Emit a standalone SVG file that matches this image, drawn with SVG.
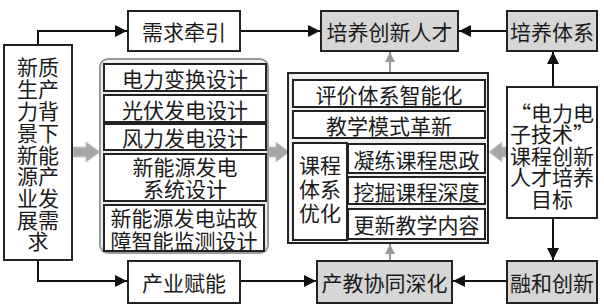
<svg xmlns="http://www.w3.org/2000/svg" width="604" height="306" viewBox="0 0 604 306">
<defs>
<style>
.t{font-family:"Noto Sans CJK SC","Noto Sans CJK JP",sans-serif;font-size:21px;fill:#1a1a1a;text-anchor:middle;dominant-baseline:central}
.b{fill:#fff;stroke:#222;stroke-width:2}
.g{fill:#d6d6d6;stroke:#222;stroke-width:2}
.ln{fill:none;stroke:#111;stroke-width:2}
.gl{fill:none;stroke:#999;stroke-width:2}
.fat{fill:#a6a6a6;stroke:#c8c8c8;stroke-width:1}
</style>
<marker id="ah" viewBox="0 0 10 10" refX="10" refY="5" markerWidth="6" markerHeight="6" orient="auto" markerUnits="strokeWidth">
<path d="M0,0 L10,5 L0,10 z" fill="#111"/>
</marker>
<marker id="gh" viewBox="0 0 10 10" refX="10" refY="5" markerWidth="5" markerHeight="5" orient="auto" markerUnits="strokeWidth">
<path d="M0,0 L10,5 L0,10 z" fill="#999"/>
</marker>
</defs>
<rect width="604" height="306" fill="#fff"/>

<g id="connectors">
<polyline class="ln" points="38,45 38,31 127,31" marker-end="url(#ah)"/>
<line class="ln" x1="240" y1="31" x2="320" y2="31" marker-end="url(#ah)"/>
<line class="ln" x1="507" y1="31" x2="459" y2="31" marker-end="url(#ah)"/>
<line class="ln" x1="553" y1="87" x2="553" y2="52" marker-end="url(#ah)"/>
<line class="ln" x1="553" y1="218" x2="553" y2="260" marker-end="url(#ah)"/>
<line class="ln" x1="507" y1="281" x2="453" y2="281" marker-end="url(#ah)"/>
<polyline class="ln" points="38,260 38,281 127,281" marker-end="url(#ah)"/>
<line class="ln" x1="240" y1="281" x2="316" y2="281" marker-end="url(#ah)"/>
<line class="gl" x1="390" y1="73" x2="390" y2="52" marker-end="url(#gh)"/>
<line class="gl" x1="390" y1="261" x2="390" y2="244" marker-end="url(#gh)"/>
<path class="fat" d="M73,147 L86,147 L86,142 L100,152 L86,162 L86,157 L73,157 z"/>
<path class="fat" d="M268,147 L276,147 L276,142 L289,152 L276,162 L276,157 L268,157 z"/>
<path class="fat" d="M507,147 L502,147 L502,142 L489,152 L502,162 L502,157 L507,157 z"/>
</g>

<g id="n-left">
<rect class="b" x="4" y="45" width="68" height="215"/>
<text class="t"><tspan x="38" y="66">新质</tspan><tspan x="38" y="88">生产</tspan><tspan x="38" y="110">力背</tspan><tspan x="38" y="132">景下</tspan><tspan x="38" y="154">新能</tspan><tspan x="38" y="175">源产</tspan><tspan x="38" y="197">业发</tspan><tspan x="38" y="219">展需</tspan><tspan x="38" y="240">求</tspan></text>
</g>

<g id="n-xqqy">
<rect class="b" x="128" y="11" width="112" height="40"/>
<text class="t" x="184" y="31">需求牵引</text>
</g>
<g id="n-cyfn">
<rect class="b" x="128" y="261" width="112" height="42"/>
<text class="t" x="184" y="282">产业赋能</text>
</g>
<g id="n-pycxrc">
<rect class="g" x="321" y="11" width="137" height="40"/>
<text class="t" x="389.5" y="31">培养创新人才</text>
</g>
<g id="n-pytx">
<rect class="g" x="507" y="11" width="90" height="40"/>
<text class="t" x="552" y="31">培养体系</text>
</g>
<g id="n-cjxtsh">
<rect class="g" x="317" y="261" width="135" height="42"/>
<text class="t" x="384.5" y="282">产教协同深化</text>
</g>
<g id="n-rhcx">
<rect class="g" x="507" y="261" width="90" height="42"/>
<text class="t" x="552" y="282">融和创新</text>
</g>

<g id="n-design">
<rect x="100" y="59" width="168" height="194" rx="8" fill="#efefef" stroke="#9a9a9a" stroke-width="2"/>
<rect class="b" x="104" y="64" width="162" height="27"/>
<text class="t" x="185" y="77.5">电力变换设计</text>
<rect class="b" x="104" y="95" width="162" height="27"/>
<text class="t" x="185" y="108.5">光伏发电设计</text>
<rect class="b" x="104" y="124" width="162" height="26"/>
<text class="t" x="185" y="137">风力发电设计</text>
<rect class="b" x="104" y="154" width="162" height="47"/>
<text class="t"><tspan x="185" y="166">新能源发电</tspan><tspan x="185" y="188">系统设计</tspan></text>
<rect class="b" x="104" y="205" width="160" height="46"/>
<text class="t"><tspan x="184" y="217">新能源发电站故</tspan><tspan x="184" y="240">障智能监测设计</tspan></text>
</g>

<g id="n-reform">
<rect x="288" y="73" width="200" height="170" fill="#efefef" stroke="#222" stroke-width="2"/>
<rect class="b" x="293" y="80" width="192" height="27"/>
<text class="t" x="389" y="93.5">评价体系智能化</text>
<rect class="b" x="293" y="111" width="192" height="27"/>
<text class="t" x="389" y="124.5">教学模式革新</text>
<rect class="b" x="293" y="143" width="54" height="97"/>
<text class="t"><tspan x="320" y="164">课程</tspan><tspan x="320" y="188">体系</tspan><tspan x="320" y="212">优化</tspan></text>
<rect class="b" x="348" y="144" width="137" height="29"/>
<text class="t" x="416.5" y="158.5">凝练课程思政</text>
<rect class="b" x="348" y="177" width="137" height="27"/>
<text class="t" x="416.5" y="190.5">挖掘课程深度</text>
<rect class="b" x="348" y="209" width="137" height="30"/>
<text class="t" x="416.5" y="224">更新教学内容</text>
</g>

<g id="n-goal">
<rect class="b" x="507" y="87" width="90" height="131"/>
<text class="t"><tspan x="552" y="112">“电力电</tspan><tspan x="552" y="133">子技术”</tspan><tspan x="552" y="155">课程创新</tspan><tspan x="552" y="176">人才培养</tspan><tspan x="552" y="198">目标</tspan></text>
</g>
</svg>
